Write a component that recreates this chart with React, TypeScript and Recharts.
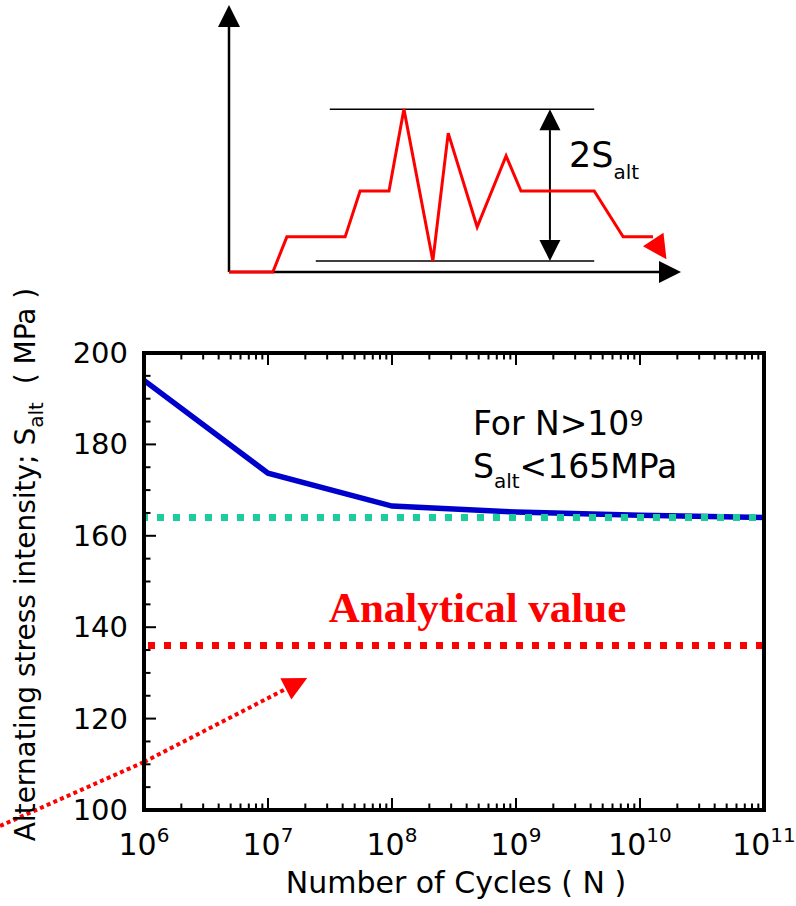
import React from 'react';
import { ComposedChart, LineChart, Line, XAxis, YAxis, ReferenceLine, ReferenceDot } from 'recharts';

// S-N curve: alternating stress intensity vs. number of cycles
const cycles = [1e6, 1e7, 1e8, 1e9, 1e10, 1e11];
const stressAlt = [194, 173.7, 166.5, 165.2, 164.5, 164];

const enduranceLimit = 164; // green dotted level
const analyticalValue = 136; // red dotted level

// dotted red pointer, starts outside the frame (N, S)
const pointerN = [6.9e4, 1e6, 2.07e7];
const pointerS = [96.5, 110.5, 128.9];

// axis ticks
const decades = [1e6, 1e7, 1e8, 1e9, 1e10, 1e11];
const decadeSteps = [1, 2, 3, 4, 5, 6, 7, 8, 9];
const yTicks = [100, 105, 110, 115, 120, 125, 130, 135, 140, 145, 150, 155, 160, 165, 170, 175, 180, 185, 190, 195, 200];
const yLabelTicks = [100, 120, 140, 160, 180, 200];

// note anchors (N, S)
const noteN = 4.5e8;
const noteS = 182.1;
const analyticalLabelN = 4.9e8;
const analyticalLabelS = 141.1;

// sketch of a stress history (time, stress) in arbitrary units
const historyT = [0, 9.7, 12.8, 25.7, 29.0, 35.4, 38.7, 45.1, 48.5, 54.9, 61.3, 64.6, 80.8, 87.2, 93.8];
const historyS = [0, 0, 7.9, 7.9, 18.2, 18.2, 36.6, 2.5, 31.2, 10.1, 26.1, 18.2, 18.2, 7.9, 7.9];
const rangeTop = { from: 22.3, to: 80.8, s: 36.6 };
const rangeBottom = { from: 19.2, to: 80.8, s: 2.5 };
const rangeArrowT = 71.0;
const rangeLabel = { t: 75.2, s: 23.6 };

const snData = cycles.map((n, i) => ({ n, s: stressAlt[i] }));
const historyData = historyT.map((t, i) => ({ t, s: historyS[i] }));
const xTicks = decades.flatMap((d, i) => (i === decades.length - 1 ? [d] : decadeSteps.map((m) => m * d)));

const FONT = '"DejaVu Sans", Arial, sans-serif';
const RED = '#ff0000';
const frameLine = { stroke: '#000', strokeWidth: 4, strokeLinecap: 'square' as const };

function isDecade(v: number) {
  const e = Math.log10(v);
  return Math.abs(e - Math.round(e)) < 1e-9;
}

function arrowHead(bx: number, by: number, tx: number, ty: number, half: number, fill: string, key: string) {
  const a = Math.atan2(ty - by, tx - bx);
  const nx = -Math.sin(a) * half;
  const ny = Math.cos(a) * half;
  return <polygon key={key} points={`${tx},${ty} ${bx + nx},${by + ny} ${bx - nx},${by - ny}`} fill={fill} />;
}

// straight line with filled heads whose tips sit on the end points
function ArrowLine(props: any) {
  const { x1, y1, x2, y2, color, width, dash, headStart, headEnd, len = 21, half = 10.5 } = props;
  const a = Math.atan2(y2 - y1, x2 - x1);
  const dx = Math.cos(a) * len;
  const dy = Math.sin(a) * len;
  const sx = headStart ? x1 + dx : x1;
  const sy = headStart ? y1 + dy : y1;
  const ex = headEnd ? x2 - dx : x2;
  const ey = headEnd ? y2 - dy : y2;
  return (
    <g>
      <line x1={sx} y1={sy} x2={ex} y2={ey} stroke={color} strokeWidth={width} strokeDasharray={dash} />
      {headStart && arrowHead(sx, sy, x1, y1, half, color, 's')}
      {headEnd && arrowHead(ex, ey, x2, y2, half, color, 'e')}
    </g>
  );
}

// square-dotted level line, dashes counted from the left frame
function DottedLevel(props: any) {
  const { x1, y1, x2, color, offset } = props;
  return (
    <line
      x1={Math.min(x1, x2)}
      y1={y1}
      x2={Math.max(x1, x2)}
      y2={y1}
      stroke={color}
      strokeWidth={7}
      strokeDasharray="7 9"
      strokeDashoffset={offset}
    />
  );
}

function BottomTick({ x, y, payload }: any) {
  const major = isDecade(payload.value);
  return (
    <g>
      <line x1={x} y1={y} x2={x} y2={y - (major ? 12 : 6.5)} stroke="#000" strokeWidth={2} />
      {major && (
        <text x={x} y={y + 45} textAnchor="middle" fontSize={30} fontFamily={FONT} fill="#000">
          10
          <tspan dy={-13} fontSize={20}>
            {Math.round(Math.log10(payload.value))}
          </tspan>
        </text>
      )}
    </g>
  );
}

function TopTick({ x, y, payload }: any) {
  const major = isDecade(payload.value);
  return <line x1={x} y1={y} x2={x} y2={y + (major ? 12 : 6.5)} stroke="#000" strokeWidth={2} />;
}

function LeftTick({ x, y, payload }: any) {
  const major = yLabelTicks.includes(payload.value);
  return (
    <g>
      <line x1={x} y1={y} x2={x + (major ? 12 : 6.5)} y2={y} stroke="#000" strokeWidth={2} />
      {major && (
        <text x={x - 16} y={y + 10} textAnchor="end" fontSize={29} fontFamily={FONT} fill="#000">
          {payload.value}
        </text>
      )}
    </g>
  );
}

function RightTick({ x, y, payload }: any) {
  const major = yLabelTicks.includes(payload.value);
  return <line x1={x} y1={y} x2={x - (major ? 12 : 6.5)} y2={y} stroke="#000" strokeWidth={2} />;
}

function YTitle({ viewBox }: any) {
  const cx = viewBox.x + 35;
  const cy = viewBox.y + viewBox.height / 2 - 17;
  return (
    <text x={cx} y={cy} transform={`rotate(-90 ${cx} ${cy})`} textAnchor="middle" fontSize={28} fontFamily={FONT} fill="#000" style={{ whiteSpace: 'pre' }}>
      Alternating stress intensity; S
      <tspan dy={8} fontSize={20}>alt</tspan>
      <tspan dy={-8}>{'  ( MPa )'}</tspan>
    </text>
  );
}

function XTitle({ viewBox }: any) {
  return (
    <text x={viewBox.x + viewBox.width / 2 + 2} y={viewBox.y + 83} textAnchor="middle" fontSize={30} fontFamily={FONT} fill="#000">
      Number of Cycles ( N )
    </text>
  );
}

function NoteText({ cx, cy }: any) {
  return (
    <text x={cx} y={cy} fontSize={33} fontFamily={FONT} fill="#000">
      <tspan x={cx}>For N&gt;10</tspan>
      <tspan dy={-9} fontSize={22}>9</tspan>
      <tspan x={cx} dy={52}>S</tspan>
      <tspan dy={10} fontSize={20}>alt</tspan>
      <tspan dy={-10}>&lt;165MPa</tspan>
    </text>
  );
}

function AnalyticalText({ cx, cy }: any) {
  return (
    <text x={cx} y={cy} textAnchor="middle" fontSize={43} fontWeight="bold" fontFamily='"Liberation Serif", "Times New Roman", serif' fill={RED}>
      Analytical value
    </text>
  );
}

function RangeText({ cx, cy }: any) {
  return (
    <text x={cx} y={cy} fontSize={35} fontFamily={FONT} fill="#000">
      2S
      <tspan dy={12} fontSize={20}>alt</tspan>
    </text>
  );
}

// filled red head at the end of the stress history
function HistoryDot(p: any) {
  if (p.index !== historyData.length - 1) return <g key={`d${p.index}`} />;
  const { cx, cy } = p;
  return <polygon key="head" points={`${cx - 10},${cy + 9.5} ${cx + 10.5},${cy - 4} ${cx + 13.5},${cy + 22.5}`} fill={RED} />;
}

function HistorySketch() {
  return (
    <LineChart width={796} height={300} data={historyData} margin={{ top: 5, right: 115, bottom: 28, left: 229 }}>
      <XAxis dataKey="t" type="number" domain={[0, 100]} hide height={0} />
      <YAxis type="number" domain={[0, 60]} hide width={0} />
      <ReferenceLine segment={[{ x: 0, y: 0 }, { x: 0, y: 60 }]} ifOverflow="visible" shape={(p: any) => <ArrowLine {...p} color="#000" width={2.5} headEnd len={22} half={11} />} />
      <ReferenceLine segment={[{ x: 0, y: 0 }, { x: 100, y: 0 }]} ifOverflow="visible" shape={(p: any) => <ArrowLine {...p} color="#000" width={2.5} headEnd len={22} half={11} />} />
      <ReferenceLine segment={[{ x: rangeTop.from, y: rangeTop.s }, { x: rangeTop.to, y: rangeTop.s }]} stroke="#000" strokeWidth={1.5} />
      <ReferenceLine segment={[{ x: rangeBottom.from, y: rangeBottom.s }, { x: rangeBottom.to, y: rangeBottom.s }]} stroke="#000" strokeWidth={1.5} />
      <ReferenceLine
        segment={[{ x: rangeArrowT, y: rangeBottom.s }, { x: rangeArrowT, y: rangeTop.s }]}
        shape={(p: any) => <ArrowLine {...p} color="#000" width={2} headStart headEnd len={21} half={10.5} />}
      />
      <ReferenceDot x={rangeLabel.t} y={rangeLabel.s} r={0} shape={RangeText} />
      <Line dataKey="s" type="linear" stroke={RED} strokeWidth={3} dot={HistoryDot} activeDot={false} isAnimationActive={false} />
    </LineChart>
  );
}

function SNChart() {
  return (
    <ComposedChart width={796} height={906} data={snData} margin={{ top: 343, right: 22, bottom: 36, left: 0 }}>
      <XAxis
        xAxisId="b"
        dataKey="n"
        type="number"
        scale="log"
        domain={[1e6, 1e11]}
        ticks={xTicks}
        interval={0}
        tick={BottomTick}
        tickLine={false}
        tickSize={0}
        tickMargin={0}
        axisLine={frameLine}
        height={60}
        label={<XTitle />}
      />
      <XAxis
        xAxisId="t"
        orientation="top"
        dataKey="n"
        type="number"
        scale="log"
        domain={[1e6, 1e11]}
        ticks={xTicks}
        interval={0}
        tick={TopTick}
        tickLine={false}
        tickSize={0}
        tickMargin={0}
        axisLine={frameLine}
        height={10}
      />
      <YAxis
        yAxisId="l"
        type="number"
        domain={[100, 200]}
        ticks={yTicks}
        interval={0}
        tick={LeftTick}
        tickLine={false}
        tickSize={0}
        tickMargin={0}
        axisLine={frameLine}
        width={144}
        label={<YTitle />}
      />
      <YAxis
        yAxisId="r"
        orientation="right"
        type="number"
        domain={[100, 200]}
        ticks={yTicks}
        interval={0}
        tick={RightTick}
        tickLine={false}
        tickSize={0}
        tickMargin={0}
        axisLine={frameLine}
        width={10}
      />
      <Line xAxisId="b" yAxisId="l" dataKey="s" type="linear" stroke="#0000cc" strokeWidth={5.5} dot={false} activeDot={false} isAnimationActive={false} />
      <ReferenceLine xAxisId="b" yAxisId="l" y={enduranceLimit} shape={(p: any) => <DottedLevel {...p} color="#1dcc9c" offset={3} />} />
      <ReferenceLine xAxisId="b" yAxisId="l" y={analyticalValue} shape={(p: any) => <DottedLevel {...p} color={RED} offset={12} />} />
      <ReferenceLine
        xAxisId="b"
        yAxisId="l"
        ifOverflow="visible"
        segment={[{ x: pointerN[0], y: pointerS[0] }, { x: pointerN[1], y: pointerS[1] }]}
        shape={(p: any) => <ArrowLine {...p} color={RED} width={4} dash="4 3.3" />}
      />
      <ReferenceLine
        xAxisId="b"
        yAxisId="l"
        ifOverflow="visible"
        segment={[{ x: pointerN[1], y: pointerS[1] }, { x: pointerN[2], y: pointerS[2] }]}
        shape={(p: any) => <ArrowLine {...p} color={RED} width={4} dash="4 3.3" headEnd len={24} half={12} />}
      />
      <ReferenceDot xAxisId="b" yAxisId="l" x={noteN} y={noteS} r={0} shape={NoteText} />
      <ReferenceDot xAxisId="b" yAxisId="l" x={analyticalLabelN} y={analyticalLabelS} r={0} shape={AnalyticalText} />
    </ComposedChart>
  );
}

export default function App() {
  return (
    <div style={{ position: 'absolute', left: 0, top: 0, width: 796, height: 906, background: '#fff' }}>
      <div style={{ position: 'absolute', left: 0, top: 0 }}>
        <SNChart />
      </div>
      <div style={{ position: 'absolute', left: 0, top: 0 }}>
        <HistorySketch />
      </div>
    </div>
  );
}
